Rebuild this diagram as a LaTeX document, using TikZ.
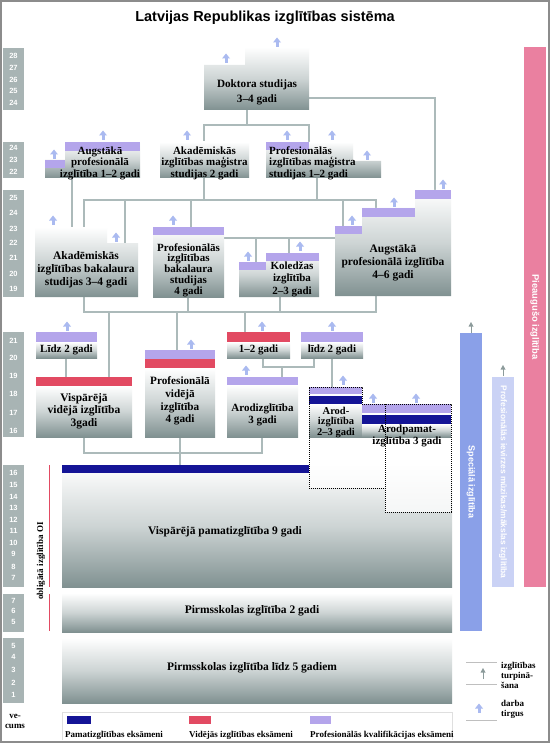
\documentclass[tikz,border=0pt]{standalone}
\usepackage{fontspec}
\setmainfont{Liberation Serif}
\newfontfamily\sansf{Liberation Sans}
\usetikzlibrary{arrows.meta}
\definecolor{purp}{RGB}{180,165,235}
\definecolor{redb}{RGB}{226,74,98}
\definecolor{navyb}{RGB}{20,20,150}
\definecolor{pinkb}{RGB}{234,128,160}
\definecolor{blueb}{RGB}{138,160,232}
\definecolor{lightb}{RGB}{202,210,245}
\definecolor{agec}{RGB}{168,180,180}
\definecolor{arrc}{RGB}{170,186,240}
\definecolor{garrc}{RGB}{140,155,155}
\definecolor{boxdark}{RGB}{128,145,145}
\definecolor{boxmid}{RGB}{205,212,212}
\definecolor{conncol}{RGB}{172,186,186}
\definecolor{framec}{RGB}{140,140,140}
\begin{document}
\begin{tikzpicture}[x=1pt,y=-1pt,
  boxsh/.style={top color=white, bottom color=boxdark, middle color=boxmid},
  conn/.style={draw=conncol, line width=1.3pt},
  txt/.style={font=\bfseries\fontsize{11}{11.5}\selectfont, align=center, inner sep=0pt},
  bigtxt/.style={font=\bfseries\fontsize{11.5}{12.8}\selectfont, align=center, inner sep=0pt},
  agenum/.style={font=\sansf\bfseries\fontsize{7.5}{8}\selectfont, text=white, inner sep=0pt},
  vtxt/.style={font=\sansf\bfseries\fontsize{9}{9}\selectfont, text=white, inner sep=0pt},
  legtxt/.style={font=\bfseries\fontsize{9}{10}\selectfont, inner sep=0pt},
  dotln/.style={draw=black, line width=0.9pt, dash pattern=on 1pt off 1pt},
  uparr/.pic={\fill[arrc] (-1.5,5) rectangle (1.5,0); \fill[arrc] (-4,0.5) -- (4,0.5) -- (0,-4.5) -- cycle;},
  garr/.pic={\draw[garrc, line width=0.8pt] (0,6) -- (0,-1); \fill[garrc] (-2.5,-0.5) -- (2.5,-0.5) -- (0,-5) -- cycle;}
]
\useasboundingbox (0,0) rectangle (550,743);
\fill[white] (0,0) rectangle (550,743);
\draw[framec, line width=2pt] (1,1) rectangle (549,742);

% title
\node[font=\sansf\bfseries\fontsize{14.5}{15}\selectfont] (title) at (265,18) {Latvijas Republikas izglītības sistēma};

% age columns
\fill[agec] (3,48) rectangle (24,110);
\fill[agec] (3,142) rectangle (24,178);
\fill[agec] (3,190) rectangle (24,297);
\fill[agec] (3,332) rectangle (24,437);
\fill[agec] (3,465) rectangle (24,587);
\fill[agec] (3,594) rectangle (24,632);
\fill[agec] (3,638) rectangle (24,703);
\foreach \n/\yy in {28/56,27/68,26/80,25/91,24/103} \node[agenum] (aA\n) at (13.5,\yy) {\n};
\foreach \n/\yy in {24/148,23/160,22/172} \node[agenum] (aB\n) at (13.5,\yy) {\n};
\foreach \n/\yy in {25/198,24/213,23/229,22/243,21/258,20/274,19/289} \node[agenum] (aC\n) at (13.5,\yy) {\n};
\foreach \n/\yy in {21/341,20/358,19/376,18/394,17/413,16/431} \node[agenum] (aD\n) at (13.5,\yy) {\n};
\foreach \n/\yy in {16/473,15/485,14/497,13/508,12/520,11/531,10/543,9/554,8/567,7/578} \node[agenum] (aE\n) at (13.5,\yy) {\n};
\foreach \n/\yy in {7/601,6/611,5/622} \node[agenum] (aF\n) at (13.5,\yy) {\n};
\foreach \n/\yy in {5/646,4/657,3/670,2/683,1/695} \node[agenum] (aG\n) at (13.5,\yy) {\n};
\node[legtxt, align=center, font=\bfseries\fontsize{9}{10}\selectfont] (vecums) at (15,721) {ve-\\cums};

% obligata
\draw[redb, line width=1pt] (49,465) -- (49,587);
\draw[redb, line width=1pt] (49,594) -- (49,631);
\node[rotate=90, font=\bfseries\fontsize{9}{9}\selectfont, inner sep=0pt] (oblig) at (41,561) {obligātā izglītība OI};

% connector coordinates
\coordinate (dokS) at (247,110);
\coordinate (dokE) at (309,98);
\coordinate (akmN) at (204,142);
\coordinate (akmS) at (204,178);
\coordinate (pmgN) at (309,142);
\coordinate (pmgS) at (317,178);
\coordinate (ap6N) at (435,190);
\coordinate (ap6Nb) at (376,208);
\coordinate (ap6Na) at (343,226);
\coordinate (ap6W) at (335,238);
\coordinate (ap6S) at (376,296);
\coordinate (ap2S) at (72,178);
\coordinate (abkN) at (84,227);
\coordinate (abkNa) at (72,227);
\coordinate (abkNb) at (125,243);
\coordinate (abkS) at (84,297);
\coordinate (pbkN) at (191,227);
\coordinate (pbkE) at (224,238);
\coordinate (pbkS) at (188,297);
\coordinate (kolNa) at (256,262);
\coordinate (kolNb) at (289,253);
\coordinate (kolS) at (280,297);
\coordinate (lidzN) at (66,358);
\coordinate (vvN) at (109,377);
\coordinate (vvNa) at (66,377);
\coordinate (vvS) at (84,437);
\coordinate (pvN) at (177,350);
\coordinate (pvS) at (180,437);
\coordinate (g12N) at (245,332);
\coordinate (g12S) at (263,358);
\coordinate (l2S) at (314,358);
\coordinate (l2Sb) at (332,358);
\coordinate (arN) at (282,377);
\coordinate (arS) at (262,437);
\coordinate (ar23N) at (332,387);
\coordinate (pamN) at (180,465);

% connectors
\draw[conn] (dokS) -- (247,125);
\draw[conn] (akmN) -- (204,125) -- (309,125) -- (pmgN);
\draw[conn] (dokE) -- (435,98) -- (ap6N);
\draw[conn] (akmS) -- (204,200);
\draw[conn] (pmgS) -- (317,200);
\draw[conn] (abkN) -- (84,200) -- (376,200) -- (ap6Nb);
\draw[conn] (abkNb) -- (125,200);
\draw[conn] (pbkN) -- (191,200);
\draw[conn] (ap6Na) -- (343,200);
\draw[conn] (ap2S) -- (abkNa);
\draw[conn] (pbkE) -- (ap6W);
\draw[conn] (kolNa) -- (256,238);
\draw[conn] (kolNb) -- (289,238);
\draw[conn] (abkS) -- (84,312) -- (376,312) -- (ap6S);
\draw[conn] (pbkS) -- (188,312);
\draw[conn] (kolS) -- (280,312);
\draw[conn] (vvN) -- (109,312);
\draw[conn] (pvN) -- (177,312);
\draw[conn] (g12N) -- (245,312);
\draw[conn] (lidzN) -- (vvNa);
\draw[conn] (l2Sb) -- (ar23N);
\draw[conn] (g12S) -- (263,367) -- (314,367) -- (l2S);
\draw[conn] (arN) -- (282,367);
\draw[conn] (vvS) -- (84,453) -- (262,453) -- (arS);
\draw[conn] (pvS) -- (pamN);

% Doktora
\shade[boxsh] (204,65) -- (245,65) -- (245,47) -- (309,47) -- (309,110) -- (204,110) -- cycle;
\node[txt, font=\bfseries\fontsize{11.2}{15}\selectfont] (dok) at (257,92) {Doktora studijas\\3–4 gadi};
\pic at (226,58) {uparr};
\pic at (277,42) {uparr};

% Akad magistra
\shade[boxsh] (160,142) rectangle (249,178);
\node[txt] (akm) at (204.5,163) {Akadēmiskās\\izglītības maģistra\\studijas 2 gadi};
\pic at (187,135) {uparr};

% Prof magistra
\shade[boxsh] (266,142) -- (353,142) -- (353,161) -- (381,161) -- (381,178) -- (266,178) -- cycle;
\fill[purp] (266,142) rectangle (309,150);
\node[txt, align=left, anchor=west] (pmg) at (269,163) {Profesionālās\\izglītības maģistra\\studijas 1–2 gadi};
\pic at (287,135) {uparr};
\pic at (332,135) {uparr};
\pic at (367,155) {uparr};

% Augst prof 1-2
\shade[boxsh] (45,160) -- (65,160) -- (65,142) -- (140,142) -- (140,178) -- (45,178) -- cycle;
\fill[purp] (65,142) rectangle (140,151);
\fill[purp] (45,160) rectangle (65,168);
\node[txt] (ap2) at (100,163) {Augstākā\\profesionālā\\izglītība 1–2 gadi};
\pic at (103,135) {uparr};
\pic at (54,154) {uparr};

% Akad bakalaura
\shade[boxsh] (35,227) -- (107,227) -- (107,243) -- (138,243) -- (138,297) -- (35,297) -- cycle;
\node[bigtxt] (abk) at (86,270) {Akadēmiskās\\izglītības bakalaura\\studijas 3–4 gadi};
\pic at (53,220) {uparr};
\pic at (116,237) {uparr};

% Prof bakalaura
\shade[boxsh] (153,227) rectangle (224,297);
\fill[purp] (153,227) rectangle (224,235);
\node[txt, font=\bfseries\fontsize{11}{10.8}\selectfont] (pbk) at (188.5,270) {Profesionālās\\izglītības\\bakalaura\\studijas\\4 gadi};
\pic at (173,220) {uparr};

% Koledzas
\shade[boxsh] (239,262) -- (266,262) -- (266,253) -- (319,253) -- (319,297) -- (239,297) -- cycle;
\fill[purp] (239,262) rectangle (266,270);
\fill[purp] (266,253) rectangle (319,261);
\node[txt, font=\bfseries\fontsize{11}{12.5}\selectfont] (kol) at (292,279) {Koledžas\\izglītība\\2–3 gadi};
\pic at (248,256) {uparr};
\pic at (300,246) {uparr};

% Augst prof 4-6
\shade[boxsh] (335,226) -- (362,226) -- (362,208) -- (415,208) -- (415,190) -- (451,190) -- (451,296) -- (335,296) -- cycle;
\fill[purp] (335,226) rectangle (362,234);
\fill[purp] (362,208) rectangle (415,217);
\fill[purp] (415,190) rectangle (451,199);
\node[bigtxt, font=\bfseries\fontsize{11.5}{13}\selectfont] (ap6) at (393,263) {Augstākā\\profesionālā izglītība\\4–6 gadi};
\pic at (352,220) {uparr};
\pic at (394,202) {uparr};
\pic at (443,184) {uparr};

% Lidz 2 gadi
\fill[purp] (36,332) rectangle (97,342);
\shade[boxsh] (36,342) rectangle (97,358);
\node[txt] (lidz) at (66.5,350) {Līdz 2 gadi};
\pic at (67,326) {uparr};

% Visp videja
\fill[redb] (36,377) rectangle (132,386);
\shade[boxsh] (36,386) rectangle (132,437);
\node[bigtxt, font=\bfseries\fontsize{11.5}{12.5}\selectfont] (vv) at (84,411) {Vispārējā\\vidējā izglītība\\3gadi};

% Prof videja
\fill[purp] (145,350) rectangle (215,359);
\fill[redb] (145,359) rectangle (215,368);
\shade[boxsh] (145,368) rectangle (215,437);
\node[txt, font=\bfseries\fontsize{11.2}{12.7}\selectfont] (pv) at (180,401) {Profesionālā\\vidējā\\izglītība\\4 gadi};
\pic at (191,344) {uparr};

% 1-2 gadi
\fill[redb] (227,332) rectangle (290,342);
\shade[boxsh] (227,342) rectangle (290,358);
\node[txt] (g12) at (258.5,350) {1–2 gadi};
\pic at (262,326) {uparr};

% lidz 2 gadi right
\fill[purp] (301,332) rectangle (363,342);
\shade[boxsh] (301,342) rectangle (363,358);
\node[txt] (l2) at (332,350) {līdz 2 gadi};
\pic at (332,326) {uparr};

% Arodizglitiba
\fill[purp] (227,377) rectangle (298,385);
\shade[boxsh] (227,385) rectangle (298,437);
\node[txt, font=\bfseries\fontsize{11}{12}\selectfont] (ar) at (262.5,415) {Arodizglītība\\3 gadi};
\pic at (246,370) {uparr};

% Vispareja pamatizglitiba
\shade[boxsh] (62,465) rectangle (452,587);
\fill[navyb] (62,465) rectangle (309,473);
\fill[white, opacity=0.75] (309,465) rectangle (385,488);
\fill[white, opacity=0.75] (385,465) rectangle (451,512);
\node[bigtxt] (pam) at (225,532) {Vispārējā pamatizglītība 9 gadi};

% Arod 2-3 (dotted)
\fill[white] (309,437) rectangle (385,465);
\fill[white] (385,437) rectangle (451,465);
\fill[purp] (309,387) rectangle (362,394);
\fill[navyb] (309,396) rectangle (362,404);
\shade[boxsh] (309,404) rectangle (362,437);
\fill[purp] (362,404) rectangle (451,413);
\fill[navyb] (362,415) rectangle (451,424);
\shade[boxsh] (362,424) rectangle (451,437);
\draw[dotln] (309,387) -- (362,387) -- (362,404) -- (451,404) -- (451,512) -- (385,512) -- (385,488) -- (309,488) -- cycle;
\draw[dotln] (385,404) -- (385,488);
\node[txt, font=\bfseries\fontsize{10.5}{10.5}\selectfont] (ar23) at (336,422.5) {Arod-\\izglītība\\2–3 gadi};
\node[txt, font=\bfseries\fontsize{11}{12}\selectfont] (arp) at (407,436) {Arodpamat-\\izglītība 3 gadi};
\pic at (343,380) {uparr};
\pic at (373,398) {uparr};
\pic at (416,398) {uparr};

% Pirmsskolas
\shade[boxsh] (62,593) rectangle (452,632);
\node[bigtxt] (pir2) at (252,611) {Pirmsskolas izglītība 2 gadi};
\shade[boxsh] (62,638) rectangle (452,703);
\node[bigtxt] (pir5) at (252,668) {Pirmsskolas izglītība līdz 5 gadiem};

% right bars
\fill[pinkb] (524,47) rectangle (546,587);
\node[vtxt, rotate=-90, font=\sansf\bfseries\fontsize{9.4}{9.4}\selectfont] (pieaug) at (535,317) {Pieaugušo izglītība};
\fill[blueb] (460,333) rectangle (482,631);
\node[vtxt, rotate=-90] (spec) at (471,482) {Speciālā izglītība};
\pic at (471,327) {garr};
\fill[lightb] (492,377) rectangle (514,587);
\node[vtxt, rotate=-90, font=\sansf\bfseries\fontsize{8.4}{8.4}\selectfont, text=white] (piev) at (503,482) {Profesionālās ievirzes mūzikas/mākslas izglītība};
\pic at (503,370) {garr};

% legend
\draw[gray!25, line width=0.6pt] (62,740) -- (62,712) -- (452,712) -- (452,740);
\fill[navyb] (67,716) rectangle (91,724);
\fill[redb] (189,716) rectangle (211,724);
\fill[purp] (310,716) rectangle (331,724);
\node[legtxt, anchor=west] (lg1) at (65,735) {Pamatizglītības eksāmeni};
\node[legtxt, anchor=west] (lg2) at (189,735) {Vidējās izglītības eksāmeni};
\node[legtxt, anchor=west] (lg3) at (310,735) {Profesionālās kvalifikācijas eksāmeni};

\draw[gray!50, line width=0.8pt] (466,662) -- (497,662);
\draw[gray!50, line width=0.8pt] (466,684) -- (497,684);
\draw[gray!50, line width=0.8pt] (466,720) -- (497,720);
\pic at (483,673) {garr};
\pic at (479,708) {uparr};
\node[legtxt, anchor=west, align=left] (lgt) at (501,675) {izglītības\\turpinā-\\šana};
\node[legtxt, anchor=west, align=left] (lgd) at (501,709) {darba\\tirgus};
\end{tikzpicture}
\end{document}
